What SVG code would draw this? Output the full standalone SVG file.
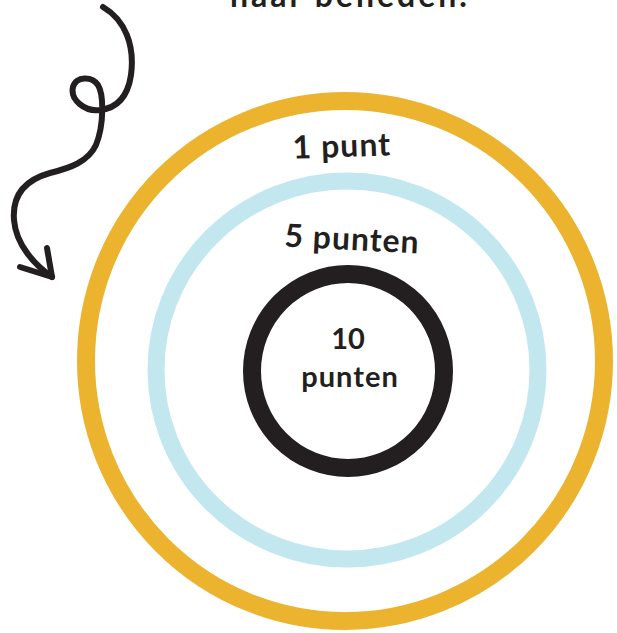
<svg xmlns="http://www.w3.org/2000/svg" width="617" height="633" viewBox="0 0 617 633">
<style>
.lbl{font-family:"Lato","Noto Sans","Liberation Sans",sans-serif;font-weight:700;fill:#231F20;text-anchor:middle}
.ring{fill:none}
.ink{fill:none;stroke:#231F20;stroke-width:6;stroke-linecap:round;stroke-linejoin:round}
</style>
<rect width="617" height="633" fill="#ffffff"/>
<g id="title">
<text class="lbl" x="350" y="7" font-size="32" letter-spacing="3">naar beneden.</text>
</g>
<g id="ring-outer">
<ellipse class="ring" cx="345" cy="361" rx="259" ry="260" stroke="#ECB32F" stroke-width="18"/>
<text class="lbl" x="342" y="157" font-size="32" letter-spacing="1" transform="rotate(-2 342 150)">1 punt</text>
</g>
<g id="ring-middle">
<ellipse class="ring" cx="347" cy="370" rx="191" ry="189" stroke="#C2E7EF" stroke-width="17"/>
<text class="lbl" x="352" y="250" font-size="32" letter-spacing="1" transform="rotate(3 352 242)">5 punten</text>
</g>
<g id="ring-inner">
<ellipse class="ring" cx="348" cy="371" rx="96" ry="97" stroke="#231F20" stroke-width="18"/>
<text class="lbl" x="348" y="349" font-size="29">10</text>
<text class="lbl" x="350" y="387" font-size="29" letter-spacing="1">punten</text>
</g>
<g id="connectors">
<path class="ink" d="M103,7 C125,20 135,45 131,75 C128,95 118,108 100,110 C85,112 70,100 73,87 C76,76 92,76 98,85 C104,95 104,125 96,145 C88,162 70,168 50,173 C25,180 12,195 14,220 C16,245 35,265 52,277"/>
<path class="ink" d="M20,267 L52,277 L47,248"/>
</g>
</svg>
